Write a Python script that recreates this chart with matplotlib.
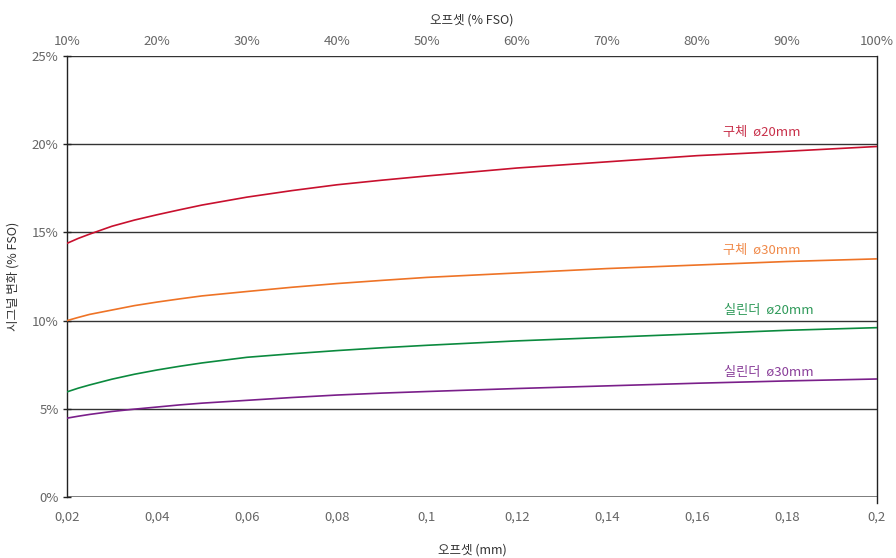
import matplotlib
matplotlib.use("Agg")
import matplotlib.pyplot as plt
from matplotlib.ticker import FixedLocator, FuncFormatter

plt.rcParams['font.family'] = ['Noto Sans CJK KR', 'DejaVu Sans']
plt.rcParams['font.weight'] = 'light'

# Offset (mm) and signal change (% FSO) for each target
offset_mm = [0.02, 0.0225, 0.025, 0.03, 0.035, 0.04, 0.045, 0.05, 0.06, 0.07,
             0.08, 0.09, 0.10, 0.12, 0.14, 0.16, 0.18, 0.20]
sphere_20 = [14.38, 14.66, 14.90, 15.35, 15.70, 16.00, 16.28, 16.55, 17.00, 17.37,
             17.70, 17.96, 18.20, 18.65, 19.00, 19.35, 19.60, 19.87]
sphere_30 = [10.00, 10.18, 10.35, 10.60, 10.85, 11.05, 11.23, 11.40, 11.65, 11.89,
             12.10, 12.28, 12.45, 12.70, 12.95, 13.15, 13.35, 13.50]
cylinder_20 = [5.96, 6.17, 6.35, 6.68, 6.96, 7.20, 7.41, 7.60, 7.92, 8.12,
               8.30, 8.46, 8.60, 8.85, 9.05, 9.25, 9.45, 9.60]
cylinder_30 = [4.47, 4.58, 4.68, 4.85, 4.98, 5.10, 5.22, 5.32, 5.48, 5.64,
               5.78, 5.89, 5.98, 6.15, 6.30, 6.45, 6.58, 6.69]

series_labels = ["구체  ø20mm", "구체  ø30mm", "실린더  ø20mm", "실린더  ø30mm"]
line_colors = ["#c8102e", "#ee7326", "#0b8a3e", "#7a1f8a"]
text_colors = ["#c8304a", "#f08a4a", "#2f9a5a", "#8a3f9a"]
label_pos = [(0.1745, 20.67), (0.1745, 13.99), (0.176, 10.60), (0.176, 7.08)]

x_ticks = [0.02, 0.04, 0.06, 0.08, 0.10, 0.12, 0.14, 0.16, 0.18, 0.20]
y_ticks = [0, 5, 10, 15, 20, 25]
top_ticks = [10, 20, 30, 40, 50, 60, 70, 80, 90, 100]

fig = plt.figure(figsize=(8.96, 5.58), dpi=100)
ax = fig.add_axes([67 / 896, 61 / 558, 810 / 896, 441 / 558])

for yv in y_ticks[1:]:
    ax.axhline(yv, color="#333333", lw=1.0, zorder=1)
ax.axhline(0, color="#666666", lw=1.2, zorder=1)

for ys, c in zip([sphere_20, sphere_30, cylinder_20, cylinder_30], line_colors):
    ax.plot(offset_mm, ys, color=c, lw=1.2, zorder=3, solid_joinstyle="round")

for (lx, ly), txt, c in zip(label_pos, series_labels, text_colors):
    ax.text(lx, ly, txt, color=c, fontsize=9.5, ha="center", va="center")

ax.set_xlim(0.02, 0.20)
ax.set_ylim(0, 25)

ax.spines["top"].set_visible(False)
ax.spines["bottom"].set_visible(False)
for s in ["left", "right"]:
    ax.spines[s].set_color("#222222")
    ax.spines[s].set_linewidth(1.0)
ax.spines["right"].set_bounds(-0.35, 25)

ax.xaxis.set_major_locator(FixedLocator(x_ticks))
ax.xaxis.set_major_formatter(FuncFormatter(lambda v, p: f"{v:g}".replace(".", ",")))
ax.yaxis.set_major_locator(FixedLocator(y_ticks))
ax.yaxis.set_major_formatter(FuncFormatter(lambda v, p: f"{v:g}%"))
ax.tick_params(axis="x", length=0, pad=10, labelsize=9.5, labelcolor="#666666")
ax.tick_params(axis="y", direction="inout", length=6, width=1, color="#222222",
               pad=3, labelsize=9.5, labelcolor="#666666")

ax.set_xlabel("오프셋 (mm)", fontsize=9, color="#333333", labelpad=14)
ax.set_ylabel("시그널 변화 (% FSO)", fontsize=9, color="#333333", labelpad=9)

top = ax.secondary_xaxis("top", functions=(lambda x: x / 0.2 * 100, lambda p: p * 0.2 / 100))
top.xaxis.set_major_locator(FixedLocator(top_ticks))
top.xaxis.set_major_formatter(FuncFormatter(lambda v, p: f"{v:g}%"))
top.tick_params(length=0, pad=6, labelsize=9.5, labelcolor="#666666")
top.spines["top"].set_visible(False)
top.set_xlabel("오프셋 (% FSO)", fontsize=9, color="#333333", labelpad=8)

fig.savefig("out.png", dpi=100, facecolor="white")
